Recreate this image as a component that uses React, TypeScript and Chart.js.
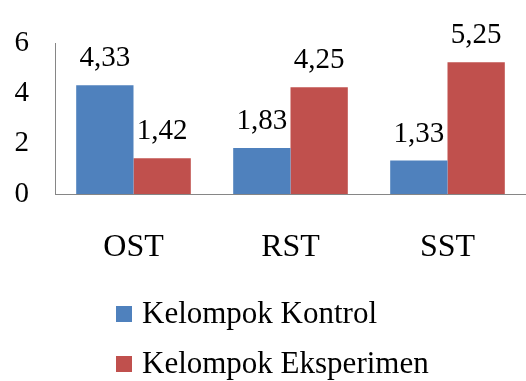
import React, { useEffect, useRef } from "react";
import { Chart, registerables } from "chart.js";

Chart.register(...registerables);

const categories = ["OST", "RST", "SST"];
const seriesNames = ["Kelompok Kontrol", "Kelompok Eksperimen"];
const kontrolValues = [4.33, 1.83, 1.33];
const eksperimenValues = [1.42, 4.25, 5.25];
const seriesColors = ["#4F81BD", "#C0504D"];
const yTickValues = [0, 2, 4, 6];

const FONT = '"Liberation Serif", "Times New Roman", serif';

const valueLabelPlugin = {
  id: "valueLabels",
  afterDatasetsDraw(chart: any) {
    const ctx = chart.ctx;
    ctx.save();
    ctx.font = `29px ${FONT}`;
    ctx.fillStyle = "#000";
    ctx.textAlign = "center";
    ctx.textBaseline = "alphabetic";
    chart.data.datasets.forEach((ds: any, di: number) => {
      const meta = chart.getDatasetMeta(di);
      meta.data.forEach((bar: any, i: number) => {
        const v = ds.data[i] as number;
        const txt = v.toFixed(2).replace(".", ",");
        ctx.fillText(txt, bar.x, bar.y - 19);
      });
    });
    ctx.restore();
  },
};

const legendPlugin = {
  id: "customLegend",
  afterDraw(chart: any) {
    const ctx = chart.ctx;
    ctx.save();
    ctx.font = `31px ${FONT}`;
    ctx.textAlign = "left";
    ctx.textBaseline = "middle";
    const startX = 116;
    const startY = 314;
    const rowGap = 50;
    chart.data.datasets.forEach((ds: any, i: number) => {
      const cy = startY + i * rowGap;
      ctx.fillStyle = ds.backgroundColor;
      ctx.fillRect(startX, cy - 8, 16, 16);
      ctx.fillStyle = "#000";
      ctx.fillText(ds.label, startX + 26, cy + 1);
    });
    ctx.restore();
  },
};

export default function App() {
  const canvasRef = useRef<HTMLCanvasElement | null>(null);

  useEffect(() => {
    if (!canvasRef.current) return;
    const chart = new Chart(canvasRef.current, {
      type: "bar",
      data: {
        labels: categories,
        datasets: [
          {
            label: seriesNames[0],
            data: kontrolValues,
            backgroundColor: seriesColors[0],
            categoryPercentage: 0.73,
            barPercentage: 1.0,
          },
          {
            label: seriesNames[1],
            data: eksperimenValues,
            backgroundColor: seriesColors[1],
            categoryPercentage: 0.73,
            barPercentage: 1.0,
          },
        ],
      },
      options: {
        responsive: false,
        animation: false,
        layout: { padding: { left: 0, top: 38, right: 0, bottom: 117 } },
        plugins: {
          legend: { display: false },
          tooltip: { enabled: false },
        },
        scales: {
          x: {
            grid: { display: false },
            border: { display: true, color: "#868686", width: 1 },
            ticks: {
              color: "#000",
              font: { family: FONT, size: 32 },
              padding: 26,
            },
            afterFit: (scale: any) => {
              scale.height = 70;
            },
          },
          y: {
            min: 0,
            max: 6,
            grid: { display: false, drawTicks: false },
            border: { display: true, color: "#868686", width: 1 },
            afterBuildTicks: (scale: any) => {
              scale.ticks = yTickValues.map((v) => ({ value: v }));
            },
            ticks: {
              color: "#000",
              font: { family: FONT, size: 29 },
              padding: 26,
            },
            afterFit: (scale: any) => {
              scale.width = 55;
            },
          },
        },
      },
      plugins: [valueLabelPlugin, legendPlugin],
    });
    return () => chart.destroy();
  }, []);

  return (
    <div
      style={{
        position: "fixed",
        left: 0,
        top: 0,
        width: 526,
        height: 381,
        background: "#fff",
      }}
    >
      <canvas ref={canvasRef} width={526} height={381} />
    </div>
  );
}
